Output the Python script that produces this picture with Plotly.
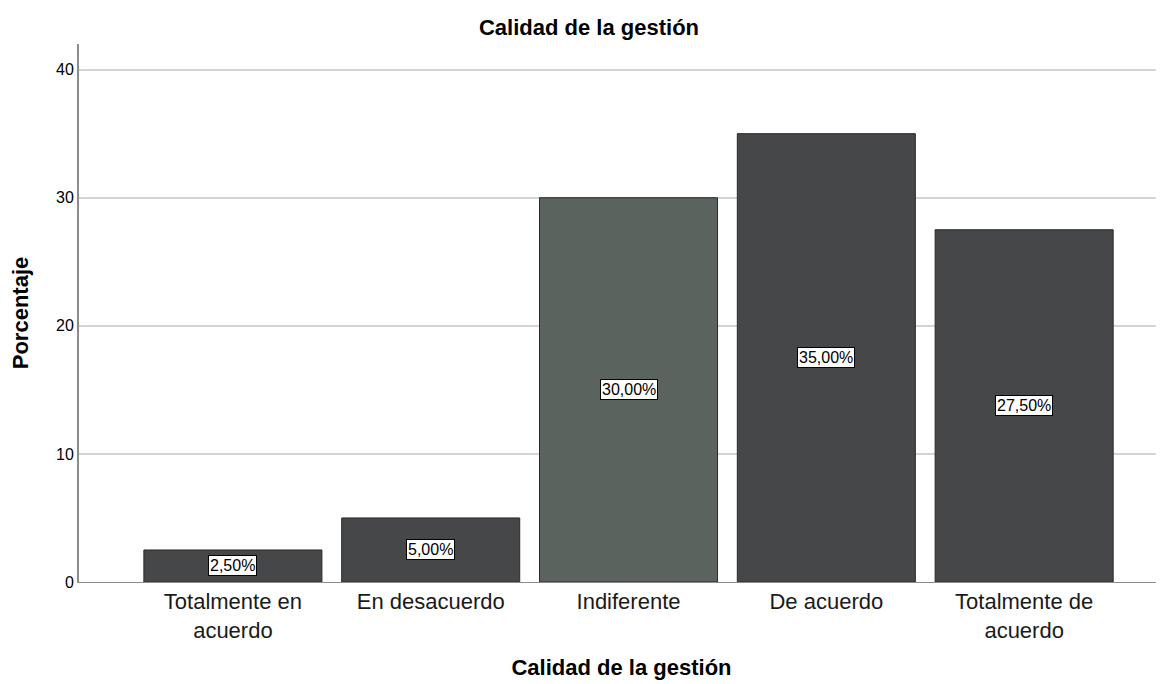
import plotly.graph_objects as go

categories = ["Totalmente en<br>acuerdo", "En desacuerdo", "Indiferente",
              "De acuerdo", "Totalmente de<br>acuerdo"]
percentages = [2.5, 5.0, 30.0, 35.0, 27.5]
bar_colors = ["#464749", "#464749", "#5a635d", "#464749", "#464749"]
y_ticks = [0, 10, 20, 30, 40]

FONT = "Liberation Sans, Arial, sans-serif"

# page body has an 8px margin, so the figure is drawn 8px in from the corner
W, H = 1156, 676

fig = go.Figure()
fig.add_trace(
    go.Bar(
        x=categories,
        y=percentages,
        width=0.9,
        marker=dict(color=bar_colors, line=dict(color="#2a2a2a", width=1)),
        showlegend=False,
        hoverinfo="skip",
    )
)

# value labels: white boxes at half the bar height
for cat, v in zip(categories, percentages):
    fig.add_annotation(
        x=cat, y=v / 2,
        text=f"{v:.2f}%".replace(".", ","),
        showarrow=False,
        font=dict(family=FONT, size=16, color="black"),
        bgcolor="white",
        bordercolor="black",
        borderwidth=1,
        borderpad=1,
    )

fig.update_layout(
    width=W, height=H,
    autosize=False,
    plot_bgcolor="white",
    paper_bgcolor="white",
    margin=dict(l=71, r=0, t=36, b=102, autoexpand=False),
    title=dict(
        text="<b>Calidad de la gestión</b>",
        x=581 / W, xanchor="center",
        y=1 - 19 / H, yanchor="middle",
        font=dict(family=FONT, size=22, color="black"),
    ),
    font=dict(family=FONT, color="black"),
    bargap=0.1,
)

fig.update_xaxes(
    range=[-0.778, 4.707],
    showline=True, linecolor="#8c8c8c", linewidth=1,
    showgrid=False,
    ticks="",
    tickfont=dict(family=FONT, size=22, color="#1a1a1a"),
    title=dict(text="<b>Calidad de la gestión</b>",
               font=dict(family=FONT, size=22, color="black"), standoff=17),
)
fig.update_yaxes(
    range=[0, 42],
    tickvals=y_ticks,
    showline=True, linecolor="#8c8c8c", linewidth=2,
    showgrid=True, gridcolor="#d4d4d4", gridwidth=2,
    zeroline=False,
    ticks="",
    tickfont=dict(family=FONT, size=16, color="black"),
    title=dict(text="<b>Porcentaje</b>",
               font=dict(family=FONT, size=22, color="black"), standoff=26),
)

fig.write_html("out.html")
